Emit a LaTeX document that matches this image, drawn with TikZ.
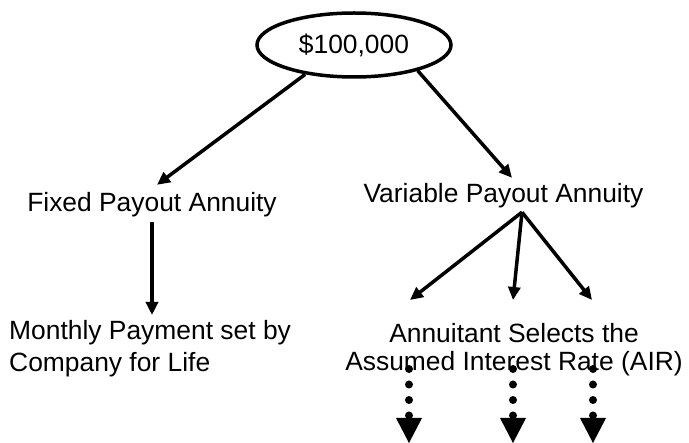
\documentclass[tikz,border=0pt]{standalone}
\usepackage{fontspec}
\setmainfont{Liberation Sans}
\usetikzlibrary{arrows.meta,shapes.geometric}
\begin{document}
\begin{tikzpicture}[x=1pt,y=-1pt,
  label/.style={font=\fontsize{26.4}{32}\selectfont, inner sep=0pt},
  oneline/.style={label, text height=19pt, text depth=6pt},
  arr/.style={line width=3.5pt, -{Triangle[length=13pt,width=12pt]}},
  dotarr/.style={line width=8pt, line cap=round, dash pattern=on 0pt off 15.5pt,
    -{Triangle[length=25pt,width=26pt,line width=0pt]}},
]
\useasboundingbox (0,0) rectangle (689,443);

% starting amount
\node[ellipse, draw, line width=3.5pt, minimum width=194pt, minimum height=64pt,
      inner sep=0pt, font=\fontsize{26.4}{32}\selectfont] (top) at (354,45) {\$100,000};

% the two payout options
\node[oneline, inner ysep=8pt, anchor=base] (fixed) at (152,212) {Fixed Payout Annuity};
\node[oneline, inner ysep=6pt, anchor=base] (var) at (503.5,203) {Variable Payout Annuity};

% outcomes
\node[label, align=left, anchor=north west, inner ysep=5pt] (monthly) at (9,315)
  {Monthly Payment set by\\Company for Life};
\node[label, font=\fontsize{26.4}{28}\selectfont, align=center, anchor=north] (air) at (514,323)
  {Annuitant Selects the\\Assumed Interest Rate (AIR)};

% open ends of the dotted arrows
\coordinate (b1) at (409,443);
\coordinate (b2) at (513,443);
\coordinate (b3) at (593,443);

% connectors
\draw[arr] (top.211) -- ([xshift=5pt]fixed.north);
\draw[arr] (top.338) -- ([xshift=8.5pt]var.north);
\draw[arr] ([yshift=4pt]fixed.south) -- (fixed.south |- monthly.north);

\draw[arr] ([xshift=18.5pt,yshift=3pt]var.south) -- ([xshift=-104pt,yshift=23pt]air.north);
\draw[arr] ([xshift=18.5pt,yshift=3pt]var.south) -- ([xshift=-1pt,yshift=23pt]air.north);
\draw[arr] ([xshift=18.5pt,yshift=3pt]var.south) -- ([xshift=78pt,yshift=23pt]air.north);

\draw[dotarr] ([xshift=-105pt,yshift=-46pt]air.north) -- (b1);
\draw[dotarr] ([xshift=-1pt,yshift=-46pt]air.north) -- (b2);
\draw[dotarr] ([xshift=79pt,yshift=-46pt]air.north) -- (b3);
\end{tikzpicture}
\end{document}
